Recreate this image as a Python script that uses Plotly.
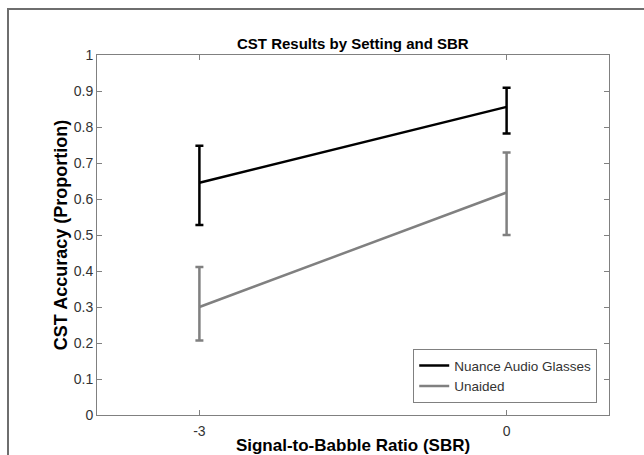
import plotly.graph_objects as go

sbr = [-3, 0]
x_ticks = [-3, 0]
x_tick_labels = ["-3", "0"]
y_ticks = [0, 0.1, 0.2, 0.3, 0.4, 0.5, 0.6, 0.7, 0.8, 0.9, 1]
y_tick_labels = ["0", "0.1", "0.2", "0.3", "0.4", "0.5", "0.6", "0.7", "0.8", "0.9", "1"]

nuance_mean = [0.645, 0.856]
nuance_upper = [0.748, 0.909]
nuance_lower = [0.528, 0.782]

unaided_mean = [0.300, 0.618]
unaided_upper = [0.411, 0.729]
unaided_lower = [0.207, 0.500]

def err(mean, up, lo):
    return [u - m for u, m in zip(up, mean)], [m - l for m, l in zip(mean, lo)]

fig = go.Figure()
for name, mean, up, lo, col in [
    ("Nuance Audio Glasses", nuance_mean, nuance_upper, nuance_lower, "#000000"),
    ("Unaided", unaided_mean, unaided_upper, unaided_lower, "#808080"),
]:
    plus, minus = err(mean, up, lo)
    fig.add_trace(go.Scatter(
        x=sbr, y=mean, mode="lines", name=name,
        line=dict(color=col, width=2.5),
        error_y=dict(type="data", symmetric=False, array=plus, arrayminus=minus,
                     color=col, thickness=2.5, width=4),
    ))

axis_col = "#808080"
font_col = "#333333"
fig.update_layout(
    width=644, height=455,
    margin=dict(l=97, r=35, t=55, b=40),
    paper_bgcolor="white", plot_bgcolor="white",
    font=dict(family="Liberation Sans, Arial, sans-serif", size=14, color=font_col),
    showlegend=True,
    legend=dict(x=0.977, y=0.033, xanchor="right", yanchor="bottom",
                bgcolor="white", bordercolor=axis_col, borderwidth=1,
                font=dict(size=13.5, color=font_col),
                tracegroupgap=0, itemwidth=30),
    annotations=[dict(text="<b>CST Results by Setting and SBR</b>", xref="paper", yref="paper",
                      x=0.5, y=1, xanchor="center", yanchor="bottom", yshift=1,
                      showarrow=False, font=dict(size=15, color="#000000"))],
    shapes=[dict(type="rect", xref="paper", yref="paper",
                 x0=(8 - 97) / 512, x1=1.2, y0=-0.2, y1=(415 - 9) / 360,
                 line=dict(color="#6e6e6e", width=2), layer="below")],
)
fig.update_xaxes(
    range=[-4, 1], tickvals=x_ticks, ticktext=x_tick_labels,
    ticks="inside", ticklen=5, tickcolor=axis_col, showline=True, linecolor=axis_col,
    linewidth=1, mirror="ticks", showgrid=False, zeroline=False, automargin=False,
    tickfont=dict(size=14, color=font_col), ticklabelstandoff=3,
    title=dict(text="<b>Signal-to-Babble Ratio (SBR)</b>", font=dict(size=17, color="#000000"), standoff=2),
)
fig.update_yaxes(
    range=[0, 1], tickvals=y_ticks, ticktext=y_tick_labels,
    ticks="inside", ticklen=5, tickcolor=axis_col, showline=True, linecolor=axis_col,
    linewidth=1, mirror="ticks", showgrid=False, zeroline=False, automargin=False,
    tickfont=dict(size=14, color=font_col),
    title=dict(text="<b>CST Accuracy (Proportion)</b>", font=dict(size=18, color="#000000"), standoff=1),
)
fig.write_html("out.html", config={"displayModeBar": False},
               post_script="document.body.style.margin='0';document.body.style.overflow='hidden';")
